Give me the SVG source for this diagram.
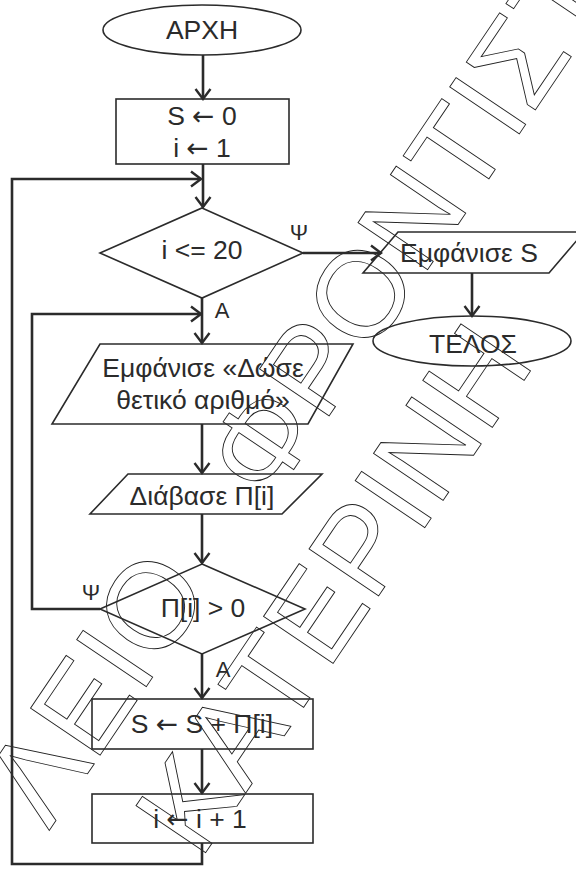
<svg xmlns="http://www.w3.org/2000/svg" width="576" height="870" viewBox="0 0 576 870">
<style>
.ln{stroke:#2b2b2b;stroke-width:2.6;fill:none}
.sh{stroke:#2b2b2b;stroke-width:1.6;fill:none}
.t{font-family:"Liberation Sans",Arial,sans-serif;font-size:26.5px;fill:#2b2b2b;text-anchor:middle}
.ar{font-family:"DejaVu Sans",sans-serif;font-weight:normal}
.lb{font-family:"Liberation Sans",Arial,sans-serif;font-size:22px;fill:#2b2b2b;text-anchor:middle}
.wm{font-family:"Liberation Sans",Arial,sans-serif;font-size:122px;fill:none;stroke:#222;stroke-width:0.9}
</style>
<defs>
<marker id="ah" markerUnits="userSpaceOnUse" viewBox="-12 -10 14 20" refX="0" refY="0" markerWidth="14" markerHeight="20" orient="auto">
<path d="M-10,-7.5 L0,0 L-10,7.5" fill="none" stroke="#2b2b2b" stroke-width="2.4"/>
</marker>
</defs>
<rect width="576" height="870" fill="#fff"/>
<g id="watermark">
<text class="wm" transform="translate(49,831) rotate(-56)">ΛΕΙΟ&#160;&#160;&#160;ΦΡΟΝΤΙΣΤ</text>
<text class="wm" transform="translate(200,861) rotate(-56)">ΚΑΤΕΡΙΝΗ</text>
</g>
<g id="connectors">
<path class="ln" d="M203,55 V99" marker-end="url(#ah)"/>
<path class="ln" d="M203,164 V207" marker-end="url(#ah)"/>
<path class="ln" d="M202,843 V864 H12 V179 H201" marker-end="url(#ah)"/>
<path class="ln" d="M202,298 V343" marker-end="url(#ah)"/>
<path class="ln" d="M202,424 V473" marker-end="url(#ah)"/>
<path class="ln" d="M202,514 V563" marker-end="url(#ah)"/>
<path class="ln" d="M100,609 H32 V314 H201" marker-end="url(#ah)"/>
<path class="ln" d="M202,654 V698" marker-end="url(#ah)"/>
<path class="ln" d="M202,749 V793" marker-end="url(#ah)"/>
<path class="ln" d="M303,253 H381" marker-end="url(#ah)"/>
<path class="ln" d="M472,273 V316" marker-end="url(#ah)"/>
<text class="lb" x="299" y="240">Ψ</text>
<text class="lb" x="222" y="318">Α</text>
<text class="lb" x="91" y="600">Ψ</text>
<text class="lb" x="223" y="677">Α</text>
</g>
<g id="start">
<ellipse class="sh" cx="202" cy="30" rx="99" ry="25"/>
<text class="t" x="202" y="39">ΑΡΧΗ</text>
</g>
<g id="init">
<rect class="sh" x="116" y="99" width="173" height="65"/>
<text class="t" x="202" y="125">S <tspan class="ar">←</tspan> 0</text>
<text class="t" x="202" y="157">i <tspan class="ar">←</tspan> 1</text>
</g>
<g id="cond1">
<polygon class="sh" points="202,208 303,253 202,298 100,253"/>
<text class="t" x="202" y="259">i &lt;= 20</text>
</g>
<g id="prompt">
<polygon class="sh" points="100,344 353,344 308,424 52,424"/>
<text class="t" x="203" y="377">Εμφάνισε «Δώσε</text>
<text class="t" x="203" y="409">θετικό αριθμό»</text>
</g>
<g id="read">
<polygon class="sh" points="128,474 322,474 282,514 90,514"/>
<text class="t" x="202" y="505">Διάβασε Π[i]</text>
</g>
<g id="cond2">
<polygon class="sh" points="202,564 305,609 202,654 100,609"/>
<text class="t" x="203" y="617">Π[i] &gt; 0</text>
</g>
<g id="sum">
<rect class="sh" x="92" y="699" width="221" height="50"/>
<text class="t" x="202" y="733">S <tspan class="ar">←</tspan> S + Π[i]</text>
</g>
<g id="inc">
<rect class="sh" x="92" y="794" width="221" height="49"/>
<text class="t" x="200" y="828">i <tspan class="ar">←</tspan> i + 1</text>
</g>
<g id="output">
<polygon class="sh" points="398,232 584,232 549,273 363,273"/>
<text class="t" x="469" y="262">Εμφάνισε S</text>
</g>
<g id="end">
<ellipse class="sh" cx="472" cy="341" rx="99" ry="25"/>
<text class="t" x="473" y="353">ΤΕΛΟΣ</text>
</g>
</svg>
